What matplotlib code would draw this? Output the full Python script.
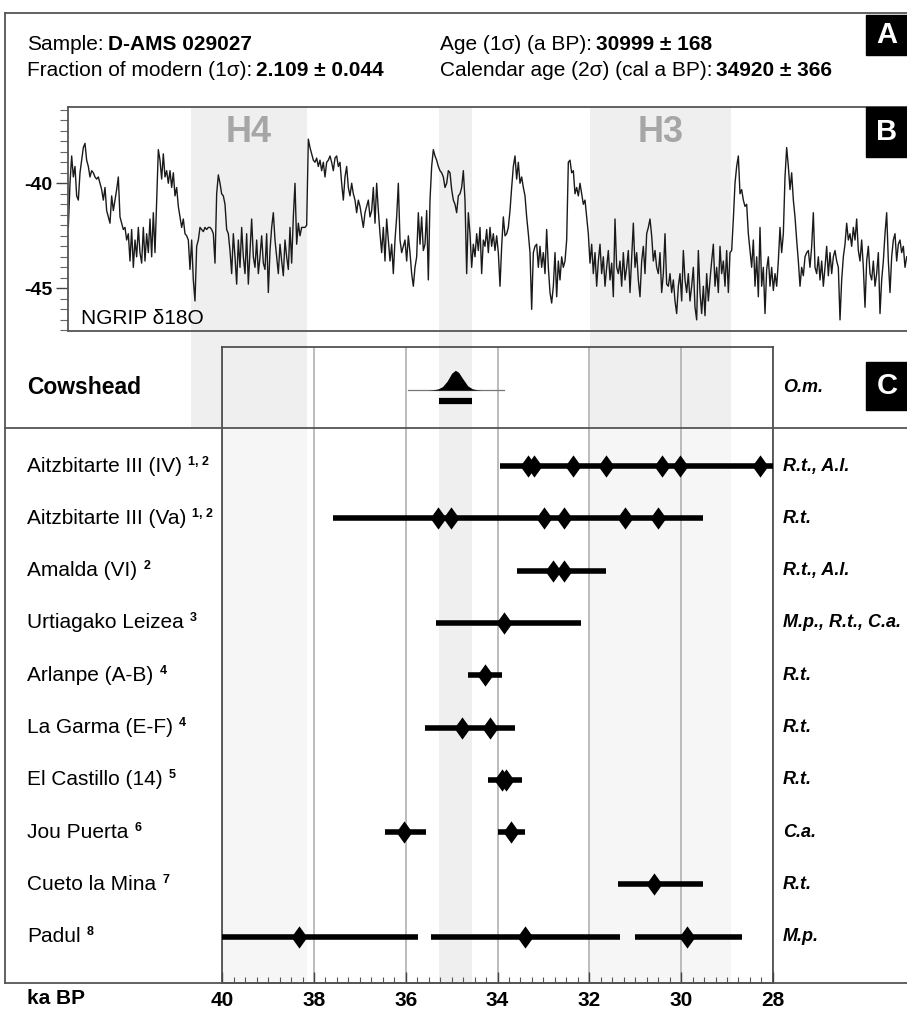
import matplotlib
matplotlib.use("Agg")
import matplotlib.pyplot as plt
import numpy as np
from matplotlib.lines import Line2D
from matplotlib.patches import Rectangle
from matplotlib.ticker import MultipleLocator
from matplotlib.transforms import blended_transform_factory

plt.rcParams['font.family'] = ['Liberation Sans', 'DejaVu Sans']
plt.rcParams['axes.unicode_minus'] = False

W, H = 907, 1011

# ---- panel A text values ----
sample_id = "D-AMS 029027"
frac_modern = "2.109 ± 0.044"
age_1s = "30999 ± 168"
cal_age_2s = "34920 ± 366"

# ---- shaded intervals (ka BP) ----
h4 = (40.68, 38.16)
h3 = (31.99, 28.92)
cal_range = (35.286, 34.554)

# ---- NGRIP d18O (evenly spaced in age) ----
ngrip_first, ngrip_last = 43.353, 25.085
ngrip_d18o = [
    -42.1, -40.0, -38.7, -39.7, -39.2, -40.6, -40.8, -39.5, -38.9, -38.3,
    -38.1, -38.9, -39.2, -39.7, -39.4, -39.5, -39.7, -39.8, -39.7, -40.0,
    -40.3, -40.8, -40.2, -41.3, -41.6, -41.9, -40.6, -41.3, -40.8, -40.3,
    -39.7, -41.6, -41.9, -42.2, -42.1, -42.7, -42.4, -43.7, -42.2, -44.0,
    -42.7, -43.5, -42.1, -43.3, -43.8, -42.1, -43.7, -42.4, -43.3, -41.7,
    -43.5, -41.4, -43.3, -40.8, -38.4, -38.9, -39.8, -38.6, -39.7, -39.4,
    -40.0, -39.4, -40.2, -39.5, -40.6, -40.2, -41.1, -41.6, -42.1, -41.7,
    -42.4, -42.5, -42.7, -44.1, -42.7, -44.6, -45.6, -43.0, -42.7, -42.1,
    -42.2, -42.3, -42.1, -42.2, -42.1, -42.1, -42.2, -42.4, -43.8, -40.5,
    -39.6, -40.0, -40.5, -40.6, -41.0, -42.2, -42.4, -43.2, -44.3, -42.4,
    -43.5, -44.8, -42.7, -44.0, -42.1, -43.5, -44.3, -42.4, -44.8, -43.2,
    -41.7, -43.5, -44.0, -42.7, -44.3, -43.5, -42.5, -43.8, -44.1, -42.4,
    -45.2, -43.2, -42.1, -41.4, -42.7, -43.5, -44.3, -42.9, -43.7, -44.4,
    -42.7, -43.5, -44.1, -42.1, -43.8, -41.6, -40.0, -42.9, -41.9, -42.5,
    -42.1, -42.1, -42.1, -42.0, -37.9, -38.3, -38.6, -38.9, -39.0, -38.8,
    -39.2, -38.9, -39.4, -39.0, -39.7, -39.0, -38.9, -38.7, -39.0, -39.4,
    -38.8, -38.7, -39.2, -39.0, -40.0, -40.8, -39.7, -39.2, -40.2, -40.6,
    -40.0, -40.5, -40.8, -41.4, -40.8, -41.1, -41.6, -42.1, -41.4, -41.1,
    -40.8, -41.6, -41.3, -40.2, -41.9, -40.0, -41.3, -42.4, -43.3, -42.1,
    -43.7, -41.7, -42.7, -43.7, -42.9, -44.3, -42.7, -41.6, -40.0, -42.7,
    -43.3, -43.0, -42.7, -43.7, -42.5, -43.3, -44.3, -44.9, -44.0, -43.5,
    -41.4, -42.9, -41.6, -43.2, -42.9, -41.3, -44.6, -40.8, -39.2, -38.4,
    -38.7, -38.9, -39.2, -39.4, -39.5, -39.7, -40.2, -40.0, -39.4, -39.5,
    -40.3, -40.8, -41.0, -41.4, -40.6, -40.5, -40.2, -39.4, -40.8, -44.3,
    -41.4, -42.4, -44.0, -42.9, -43.5, -42.4, -43.2, -42.1, -44.3, -42.7,
    -43.0, -42.2, -43.3, -42.1, -43.0, -42.4, -43.2, -42.5, -43.3, -44.9,
    -43.0, -41.6, -42.5, -42.4, -42.1, -41.3, -40.2, -39.2, -38.7, -39.8,
    -39.0, -40.0, -39.7, -40.2, -40.6, -41.6, -42.4, -43.3, -46.0, -43.3,
    -43.0, -42.9, -44.0, -43.0, -44.0, -43.3, -44.3, -42.2, -44.0, -45.2,
    -45.7, -44.9, -43.3, -45.4, -43.7, -44.6, -43.5, -44.0, -43.7, -42.7,
    -39.0, -38.9, -39.5, -39.4, -40.5, -40.2, -40.6, -40.0, -40.5, -41.0,
    -40.8, -41.6, -42.4, -43.8, -42.9, -44.3, -43.3, -44.9, -43.7, -42.9,
    -44.3, -43.5, -44.9, -44.0, -43.2, -44.6, -43.8, -45.4, -41.7, -44.0,
    -44.3, -43.7, -44.9, -43.3, -44.6, -44.0, -43.2, -45.2, -43.5, -41.9,
    -44.0, -43.3, -44.6, -45.4, -43.7, -43.0, -44.3, -42.4, -42.1, -41.7,
    -42.5, -43.7, -43.2, -44.0, -44.3, -43.3, -45.2, -44.3, -42.4, -44.8,
    -44.9, -44.3, -45.2, -44.6, -45.6, -46.2, -44.9, -44.3, -45.6, -43.2,
    -44.6, -45.2, -44.3, -45.6, -44.9, -44.0, -45.9, -46.5, -43.2, -45.2,
    -46.2, -44.9, -46.3, -44.3, -45.6, -44.6, -43.7, -42.9, -44.9, -44.0,
    -45.2, -43.0, -44.3, -43.7, -44.9, -43.2, -45.2, -43.3, -43.2, -41.7,
    -40.0, -39.2, -38.7, -40.5, -40.3, -40.8, -41.1, -41.0, -42.4, -43.2,
    -44.0, -42.7, -44.9, -43.5, -45.4, -42.1, -44.9, -44.0, -46.2, -44.1,
    -43.5, -44.9, -44.0, -45.1, -44.3, -44.9, -43.7, -42.1, -43.3, -42.4,
    -39.7, -38.3, -39.2, -40.3, -39.5, -40.8, -41.6, -42.7, -43.7, -44.9,
    -44.0, -44.4, -43.5, -43.3, -43.2, -44.0, -43.0, -41.4, -44.0, -44.3,
    -43.5, -44.6, -43.7, -44.9, -44.0, -43.0, -44.4, -43.3, -44.3, -43.5,
    -43.2, -43.7, -44.0, -46.5, -44.6, -43.5, -42.9, -41.9, -42.7, -42.4,
    -43.0, -42.1, -42.7, -41.7, -43.2, -43.7, -42.7, -44.0, -45.9, -43.7,
    -43.0, -44.3, -44.6, -43.7, -44.9, -44.3, -43.3, -46.2, -44.6, -43.7,
    -42.4, -41.4, -43.7, -45.2, -43.5, -42.7, -42.4, -43.7, -42.9, -42.7,
    -43.3, -43.0, -44.0, -43.5,
]

# ---- Cowshead calibrated date ----
cow_age = [35.50, 35.40, 35.30, 35.20, 35.10, 35.00, 34.92, 34.85, 34.75,
           34.65, 34.55, 34.45, 34.35]
cow_dens = [0.0, 0.02, 0.06, 0.18, 0.45, 0.85, 1.0, 0.9, 0.55, 0.22, 0.07,
            0.02, 0.0]
cow_span = (35.96, 33.86)

# ---- comparison sites ----
sites = ["Aitzbitarte III (IV)", "Aitzbitarte III (Va)", "Amalda (VI)",
         "Urtiagako Leizea", "Arlanpe (A-B)", "La Garma (E-F)",
         "El Castillo (14)", "Jou Puerta", "Cueto la Mina", "Padul"]
refs = ["1, 2", "1, 2", "2", "3", "4", "4", "5", "6", "7", "8"]
industries = ["R.t., A.l.", "R.t.", "R.t., A.l.", "M.p., R.t., C.a.", "R.t.",
              "R.t.", "R.t.", "C.a.", "R.t.", "M.p."]
site_ranges = [
    [(33.94, 28.0)],
    [(37.58, 29.52)],
    [(33.58, 31.63)],
    [(35.35, 32.19)],
    [(34.65, 33.91)],
    [(35.59, 33.63)],
    [(34.21, 33.46)],
    [(36.46, 35.56), (34.0, 33.41)],
    [(31.38, 29.53)],
    [(40.0, 35.73), (35.45, 31.33), (31.0, 28.68)],
]
site_points = [
    [33.33, 33.20, 32.35, 31.63, 30.41, 30.02, 28.29],
    [35.30, 35.02, 32.98, 32.56, 31.23, 30.50],
    [32.80, 32.55],
    [33.87],
    [34.27],
    [34.77, 34.17],
    [33.90, 33.81],
    [36.04, 33.71],
    [30.60],
    [38.33, 33.41, 29.88],
]
age_ticks = [40, 38, 36, 34, 32, 30, 28]

# ---- layout helpers ----
fig = plt.figure(figsize=(W / 100, H / 100), dpi=100)
renderer = fig.canvas.get_renderer()
X40, X28 = 222.2, 772.9
PPK = (X28 - X40) / 12.0


def ka_at(px):
    return 40 - (px - X40) / PPK


def frac(x0, y0, x1, y1):
    return [x0 / W, 1 - y1 / H, (x1 - x0) / W, (y1 - y0) / H]


def fline(xs, ys, color='#555555', lw=1.3):
    fig.add_artist(Line2D([x / W for x in xs], [1 - y / H for y in ys],
                          color=color, lw=lw, zorder=5))


def tag(letter, y0, y1):
    fig.add_artist(Rectangle((866 / W, 1 - y1 / H), 0.1, (y1 - y0) / H,
                             transform=fig.transFigure, color='black', zorder=6))
    fig.text(887 / W, 1 - (y0 + y1) / 2 / H, letter, color='white', fontsize=21,
             fontweight='bold', ha='center', va='center', zorder=7)


def pair(x, y, plain, bold, size=15):
    t = fig.text(x / W, 1 - y / H, plain, fontsize=size, va='center')
    bb = t.get_window_extent(renderer)
    fig.text((bb.x1 + 4) / W, 1 - y / H, bold, fontsize=size,
             fontweight='bold', va='center')


# ---- background shading ----
ax_bg = fig.add_axes([0, 0, 1, 1], zorder=0)
ax_bg.set_xlim(ka_at(0), ka_at(W))
ax_bg.set_ylim(H, 0)
ax_bg.axis('off')
for span in (h4, cal_range, h3):
    ax_bg.fill_betweenx([107, 428], span[0], span[1], color='#efefef', lw=0)

# ---- panel A ----
pair(27, 45, "Sample:", sample_id)
pair(27, 70, "Fraction of modern (1σ):", frac_modern)
pair(440, 45, "Age (1σ) (a BP):", age_1s)
pair(440, 70, "Calendar age (2σ) (cal a BP):", cal_age_2s)

# ---- panel B ----
ax_b = fig.add_axes(frac(68, 107, 935, 331), zorder=2)
ax_b.set_facecolor('none')
ax_b.set_xlim(ka_at(68), ka_at(935))
ax_b.set_ylim(-47.03, -36.37)
ngrip_age = np.linspace(ngrip_first, ngrip_last, len(ngrip_d18o))
ax_b.plot(ngrip_age, ngrip_d18o, color='#1a1a1a', lw=1.0)
ax_b.set_xticks([])
ax_b.set_yticks([-40, -45])
ax_b.yaxis.set_minor_locator(MultipleLocator(0.5))
ax_b.tick_params(axis='y', which='major', direction='out', length=9,
                 width=1, labelsize=14, pad=2, colors='#444444', labelcolor='black')
ax_b.tick_params(axis='y', which='minor', direction='out', length=6,
                 width=0.8, colors='#666666')
for lab in ax_b.get_yticklabels():
    lab.set_fontweight('bold')
for s in ax_b.spines.values():
    s.set_color('#555555')
    s.set_linewidth(1.3)
for span, name in ((h4, "H4"), (h3, "H3")):
    ax_b.text(sum(span) / 2, 0.885, name, transform=ax_b.get_xaxis_transform(),
              ha='center', va='center', fontsize=26, fontweight='bold',
              color='#a6a6a6')
fig.text(81 / W, 1 - 318 / H, "NGRIP δ18O", fontsize=15, va='center')

# ---- panel C ----
ROW0, ROWSTEP = 466.0, 52.3
ax_c = fig.add_axes(frac(X40, 347, X28, 983), zorder=2)
ax_c.set_facecolor('none')
ax_c.set_xlim(40, 28)
ax_c.set_ylim((983 - ROW0) / ROWSTEP, (347 - ROW0) / ROWSTEP)
sep = (428 - ROW0) / ROWSTEP
bottom = (983 - ROW0) / ROWSTEP
for span, col in ((h4, '#f6f6f6'), (cal_range, '#efefef'), (h3, '#f6f6f6')):
    ax_c.fill_betweenx([sep, bottom], span[0], span[1], color=col, lw=0, zorder=0)
ax_c.set_xticks(age_ticks)
ax_c.xaxis.set_minor_locator(MultipleLocator(0.25))
ax_c.grid(axis='x', which='major', color='#aaaaaa', lw=1.1, zorder=1)
ax_c.set_yticks([])
ax_c.tick_params(axis='x', which='major', direction='in', length=8, width=1,
                 labelsize=15, pad=6, colors='#444444', labelcolor='black')
ax_c.tick_params(axis='x', which='minor', direction='in', length=4, width=0.8,
                 colors='#555555')
for lab in ax_c.get_xticklabels():
    lab.set_fontweight('bold')
for s in ax_c.spines.values():
    s.set_color('#444444')
    s.set_linewidth(1.2)

# Cowshead
cow_y = -1.5
base = -1.45
ax_c.plot(cow_span, [base, base], color='#777777', lw=0.9, zorder=3)
ax_c.fill_between(cow_age, base, base - 0.38 * np.array(cow_dens),
                  color='black', lw=0, zorder=4)
ax_c.plot(cal_range, [-1.24] * 2, color='black', lw=4.5,
          solid_capstyle='butt', zorder=4)

# sites
diamond = [(0, 1), (0.72, 0), (0, -1), (-0.72, 0), (0, 1)]
for i in range(len(sites)):
    for a, b in site_ranges[i]:
        ax_c.plot([a, b], [i, i], color='black', lw=4, solid_capstyle='butt',
                  zorder=4)
    ax_c.plot(site_points[i], [i] * len(site_points[i]), marker=diamond,
              ls='none', color='black', ms=16, mew=0, zorder=5, clip_on=False)

lab_tr = blended_transform_factory(fig.transFigure, ax_c.transData)
ax_c.text(27 / W, cow_y, "Cowshead", transform=lab_tr, fontsize=16.5,
          fontweight='bold', va='center', clip_on=False)
ax_c.text(783 / W, cow_y, "O.m.", transform=lab_tr, fontsize=13,
          fontweight='bold', style='italic', va='center', clip_on=False)
for i, name in enumerate(sites):
    t = ax_c.text(27 / W, i, name, transform=lab_tr, fontsize=15,
                  va='center', clip_on=False)
    bb = t.get_window_extent(renderer)
    fig.text((bb.x1 + 6) / W, (bb.y1 + 1) / H, refs[i], fontsize=9,
             fontweight='bold', va='top')
    ax_c.text(783 / W, i, industries[i], transform=lab_tr, fontsize=13,
              fontweight='bold', style='italic', va='center', clip_on=False)

fig.text(27 / W, 1 - 999 / H, "ka BP", fontsize=15, fontweight='bold',
         va='center')

# ---- frame lines and panel tags ----
fline([5, 5], [13, 983])
fline([5, W], [13, 13])
fline([5, W], [428, 428])
fline([5, W], [983, 983])
tag("A", 15, 55)
tag("B", 107, 157)
tag("C", 362, 410)

fig.savefig("out.png", dpi=100)
